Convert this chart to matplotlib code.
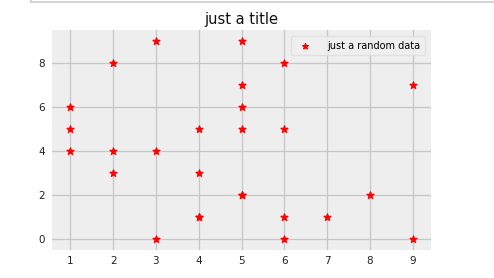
import matplotlib
matplotlib.use("Agg")
import matplotlib.pyplot as plt
from matplotlib.lines import Line2D

x_vals = [1, 1, 1, 2, 2, 2, 3, 3, 3, 4, 4, 4, 4, 5, 5, 5, 5, 5, 5, 6, 6, 6, 6, 7, 8, 9, 9]
y_vals = [6, 5, 4, 8, 4, 3, 9, 4, 0, 5, 3, 1, 1, 9, 7, 6, 5, 2, 2, 8, 5, 1, 0, 1, 2, 7, 0]
title = "just a title"
series_label = "just a random data"

plt.rcParams['font.family'] = ['DejaVu Sans']
fig = plt.figure(figsize=(4.94, 2.78), dpi=100)
ax = fig.add_axes([52/494, 1 - 249.5/278, (431-52)/494, (249.5-30)/278])
ax.set_facecolor('#eeeeee')
ax.scatter(x_vals, y_vals, marker='*', color='red', s=26, label=series_label, zorder=3)
ax.set_xlim(0.57, 9.43)
ax.set_ylim(-0.5, 9.52)
ax.set_xticks(range(1, 10))
ax.set_yticks([0, 2, 4, 6, 8])
ax.grid(True, color='#c6c6c6', linewidth=0.9)
ax.set_axisbelow(True)
for s in ax.spines.values():
    s.set_visible(False)
ax.tick_params(length=0, labelsize=7.5, colors='#222222', pad=5)
ax.set_title(title, fontsize=10.5, color='#111111', pad=4)
leg = ax.legend(loc='upper right', fontsize=7, frameon=True, borderpad=0.45,
                handletextpad=1.3, markerscale=0.8, borderaxespad=0.65)
leg.get_frame().set_facecolor('#f0f0f0')
leg.get_frame().set_edgecolor('#dddddd')

# top notebook frame line
fig.add_artist(Line2D([31/494, 1], [1 - 1.5/278, 1 - 1.5/278], color='#cccccc', linewidth=1.2))
fig.add_artist(Line2D([31/494, 31/494], [1 - 1.5/278, 1], color='#cccccc', linewidth=1.2))

fig.savefig('out.png', dpi=100, facecolor='white')
